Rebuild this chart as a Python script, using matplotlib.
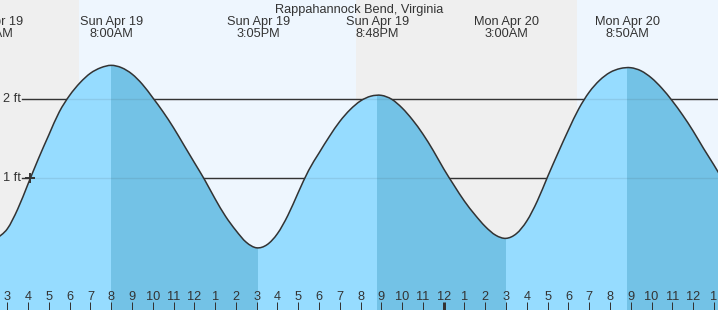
import numpy as np
import matplotlib
matplotlib.use("Agg")
import matplotlib.pyplot as plt
from matplotlib.path import Path
from matplotlib.patches import PathPatch

# ---------------- data (hours since Sun Apr 19 00:00) ----------------
times = [2.5, 3.0, 3.5, 4.0, 4.5, 5.0, 5.5, 6.0, 6.5, 7.0,
         7.5, 8.0, 8.5, 9.0, 9.5, 10.0, 10.5, 11.0, 11.5, 12.0,
         12.5, 13.0, 13.5, 14.0, 14.5, 15.0, 15.5, 16.0, 16.5, 17.0,
         17.5, 18.0, 18.5, 19.0, 19.5, 20.0, 20.5, 21.0, 21.5, 22.0,
         22.5, 23.0, 23.5, 24.0, 24.5, 25.0, 25.5, 26.0, 26.5, 27.0,
         27.5, 28.0, 28.5, 29.0, 29.5, 30.0, 30.5, 31.0, 31.5, 32.0,
         32.5, 33.0, 33.5, 34.0, 34.5, 35.0, 35.5, 36.0, 36.5, 37.0,
         37.5]
heights = [0.24, 0.36, 0.61, 0.93, 1.25, 1.55, 1.84, 2.05, 2.21, 2.33,
           2.40, 2.43, 2.40, 2.32, 2.19, 2.02, 1.84, 1.64, 1.42, 1.20,
           0.98, 0.74, 0.52, 0.34, 0.19, 0.12, 0.16, 0.30, 0.53, 0.82,
           1.10, 1.32, 1.53, 1.72, 1.87, 1.98, 2.04, 2.05, 2.00, 1.89,
           1.74, 1.56, 1.35, 1.12, 0.91, 0.71, 0.54, 0.39, 0.28, 0.24,
           0.30, 0.46, 0.71, 1.02, 1.32, 1.61, 1.88, 2.09, 2.24, 2.34,
           2.39, 2.40, 2.36, 2.27, 2.14, 1.98, 1.80, 1.60, 1.38, 1.17,
           0.95]

event_times = [2.22, 8.0, 15.08, 20.8, 27.0, 32.83]
event_dates = ["Sun Apr 19", "Sun Apr 19", "Sun Apr 19", "Sun Apr 19", "Mon Apr 20", "Mon Apr 20"]
event_clock = ["2:13AM", "8:00AM", "3:05PM", "8:48PM", "3:00AM", "8:50AM"]
falling_spans = [(8.0, 15.08), (20.8, 27.0), (32.83, 40.0)]

night_spans = [(-5.0, 6.45), (19.78, 30.42)]
day_spans = [(6.45, 19.78), (30.42, 45.0)]

hour_ticks = list(range(3, 38))
hour_labels = ["3", "4", "5", "6", "7", "8", "9", "10", "11", "12", "1", "2",
               "3", "4", "5", "6", "7", "8", "9", "10", "11", "12", "1", "2",
               "3", "4", "5", "6", "7", "8", "9", "10", "11", "12", "1"]
midnight = 24

level_ticks = [1, 2]
level_labels = ["1 ft", "2 ft"]

now_time = 4.116
now_height = 1.0

title = "Rappahannock Bend, Virginia"

# ---------------- style ----------------
W, H = 718, 310
XMIN, XMAX = 2.6487, 37.2
YMIN, YMAX = -0.667, 3.257
NIGHT = "#efefef"
DAY = "#eef6fe"
LIGHT = "#96dcff"
DARK = "#73c2e6"
INK = "#333333"
FONT = "Liberation Sans"
FS = 9.2

plt.rcParams["font.family"] = [FONT, "DejaVu Sans"]

fig = plt.figure(figsize=(W / 100, H / 100), dpi=100)
ax = fig.add_axes([0, 0, 1, 1])
ax.set_xlim(XMIN, XMAX)
ax.set_ylim(YMIN, YMAX)
ax.axis("off")


def px_to_y(py):
    return YMAX - py / H * (YMAX - YMIN)


def smooth_path(xs, ys, close_to=None):
    """Bezier (Catmull-Rom) path through the given points, drawn by matplotlib."""
    P = np.column_stack([xs, ys]).astype(float)
    n = len(P)
    verts = [P[0]]
    codes = [Path.MOVETO]
    for i in range(n - 1):
        p0 = P[max(i - 1, 0)]
        p1 = P[i]
        p2 = P[i + 1]
        p3 = P[min(i + 2, n - 1)]
        verts += [p1 + (p2 - p0) / 6.0, p2 - (p3 - p1) / 6.0, p2]
        codes += [Path.CURVE4] * 3
    if close_to is not None:
        verts += [(P[-1, 0], close_to), (P[0, 0], close_to), P[0]]
        codes += [Path.LINETO, Path.LINETO, Path.CLOSEPOLY]
    return Path(np.array(verts), codes)


for a, b in night_spans:
    ax.axvspan(a, b, color=NIGHT, lw=0, zorder=0)
for a, b in day_spans:
    ax.axvspan(a, b, color=DAY, lw=0, zorder=0)

# level lines (under the fill) and labels
line_start = 22 / W
for lv, lab in zip(level_ticks, level_labels):
    ax.axhline(lv, xmin=line_start, xmax=1, color=INK, lw=1.0, zorder=1)
    ax.axhline(lv, xmin=line_start, xmax=1, color=INK, lw=1.0, alpha=0.10, zorder=4)
    ax.text(XMIN + 3 / W * (XMAX - XMIN), lv, lab, ha="left", va="center",
            fontsize=FS, color=INK, zorder=5)

# tide fill
fill_path = smooth_path(times, heights, close_to=YMIN - 1)
fill = PathPatch(fill_path, facecolor=LIGHT, edgecolor="none", zorder=2)
ax.add_patch(fill)
for a, b in falling_spans:
    r = ax.axvspan(a, b, color=DARK, lw=0, zorder=3)
    r.set_clip_path(fill)
outline = PathPatch(smooth_path(times, heights), facecolor="none", edgecolor=INK,
                    lw=1.1, zorder=6)
ax.add_patch(outline)

# current time marker
ax.plot([now_time], [now_height], marker="+", ms=7, mew=1.4, color=INK, zorder=7)

# title and event labels
ax.text((XMIN + XMAX) / 2, px_to_y(12.5), title, ha="center", va="baseline",
        fontsize=FS, color=INK)
for t, d, c in zip(event_times, event_dates, event_clock):
    ax.text(t, px_to_y(25), d, ha="center", va="baseline", fontsize=FS, color=INK)
    ax.text(t, px_to_y(36.7), c, ha="center", va="baseline", fontsize=FS, color=INK)

# hour ticks
for h, lab in zip(hour_ticks, hour_labels):
    lw = 3.0 if h == midnight else 1.0
    ax.plot([h, h], [px_to_y(302), YMIN], color=INK, lw=lw * 0.72,
            solid_capstyle="butt", zorder=8)
    ax.text(h, px_to_y(300), lab, ha="center", va="baseline", fontsize=FS,
            color=INK, zorder=8)

fig.savefig("out.png", dpi=100)
